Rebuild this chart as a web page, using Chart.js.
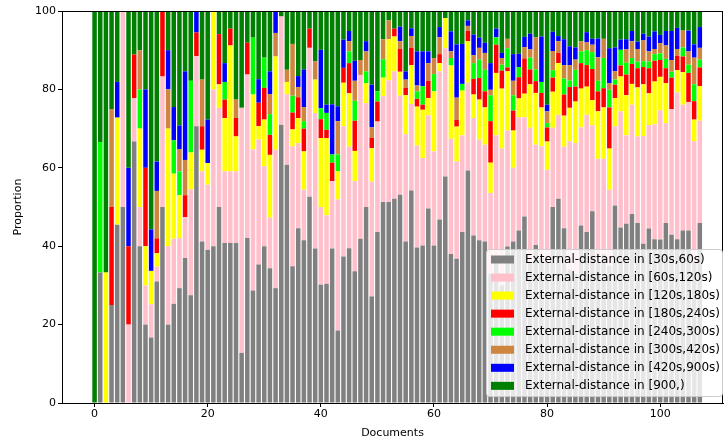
<!DOCTYPE html>
<html>
<head>
<meta charset="utf-8">
<script src="https://cdn.jsdelivr.net/npm/chart.js@4.4.0/dist/chart.umd.min.js"></script>
<style>
  html, body { margin: 0; padding: 0; background: #fff; }
</style>
</head>
<body>
<canvas id="myChart" width="724" height="443"></canvas>
<script>
// documents on the x axis
var documents = [0,1,2,3,4,5,6,7,8,9,10,11,12,13,14,15,16,17,18,19,
  20,21,22,23,24,25,26,27,28,29,30,31,32,33,34,35,36,37,38,39,
  40,41,42,43,44,45,46,47,48,49,50,51,52,53,54,55,56,57,58,59,
  60,61,62,63,64,65,66,67,68,69,70,71,72,73,74,75,76,77,78,79,
  80,81,82,83,84,85,86,87,88,89,90,91,92,93,94,95,96,97,98,99,
  100,101,102,103,104,105,106,107];

var xTicks = [0, 20, 40, 60, 80, 100];
var yTicks = [0, 20, 40, 60, 80, 100];

var seriesNames = ['External-distance in [30s,60s)', 'External-distance in [60s,120s)',
  'External-distance in [120s,180s)', 'External-distance in [180s,240s)',
  'External-distance in [240s,300s)', 'External-distance in [300s,420s)',
  'External-distance in [420s,900s)', 'External-distance in [900,)'];

var d30_60 = [0,33.3,0,25,45.5,50,0,66.7,40,20,
  16.7,31,50,20,25.3,29.3,37,27.5,70.6,41.2,
  39.1,40,50,40.8,40.8,40.8,12.8,42.1,28.7,35.3,
  40,34.4,29.3,71,60.8,34.9,44.6,41.5,52.6,39.4,
  30.2,30.4,39.4,18.5,37.4,39.5,33.6,41.9,50,27.2,
  43.6,51.3,51.3,52.1,53.1,41.2,54.2,39.7,40.2,49.6,
  40.2,46.8,57.8,38,36.8,43.6,59.3,42.7,41.5,41.2,
  33,36,30,39.9,41.2,44,47.6,36,40.3,37,
  36,50,52.1,44.6,34,33,45.3,43.6,48.9,36,
  38,35,50.4,44.8,45.7,48.2,45.9,40.6,44.5,41.8,
  41.7,45.9,42.9,41.8,44,44,36,45.9];

var d60_120 = [0,0,0,0,0,50,20,11.1,10,10,
  8.5,3.8,33.3,20,16.6,12.8,10.4,27,17.9,17.9,
  16.6,40,25.3,18.3,18.3,18.3,62.5,41.7,36,31.9,
  20.4,12.9,35.3,27.6,18,30.6,21.7,12.9,38,34.6,
  19.8,17.5,17.2,33.4,33.2,25.9,23,41.8,26.5,29.3,
  28.2,27,31,32.5,25.3,27.4,22.1,26,22.3,23.8,
  24,37.8,32.7,29.4,24.8,24.7,22.4,30,25.7,24.7,
  20.6,32.3,34.9,29.6,18.8,28.9,25.3,34.2,25.6,28.5,
  23.5,20.2,21.4,20.8,32.8,33.3,25,29.9,22,26.3,
  24.3,19.4,20.2,29.6,22.6,27.9,22.1,27.5,26.4,29.3,
  33,25.5,32.1,37.4,32.1,32.8,30.8,26.1];

var d120_180 = [0,0,33.3,0,27.3,0,0,0,20,10,
  8.5,3.4,0,30,16.6,10.9,0,9.4,0,5.5,
  5.5,20,6,13.6,32.1,8.9,0,0,14,3.4,
  11.9,16,23.8,0,3.1,4.3,6.4,9.8,0,8.5,
  17.6,19.7,0,7.2,11.1,13.6,7.7,0,5.1,8.5,
  0,4.7,10.5,8.9,6.1,9.9,9.9,9.9,12.3,4.4,
  15.3,2.1,7.7,18.7,8.9,11.4,10.6,6,10.2,9.5,
  7.7,15.9,15.3,15.1,9.5,4.8,6,11.1,13.2,9.9,
  7.2,9.2,13.2,7.9,8.5,10.6,9.9,7.2,6.4,12.1,
  13.1,10.5,7.2,8.9,10.2,5.3,12.5,13.2,8.1,10.9,
  8.5,10.2,0,5.7,8.3,0,5.5,8.8];

var d180_240 = [0,0,0,25,0,0,20,11.1,0,20,
  0,3.8,16.7,0,0,0,5.6,0,6,6,
  0,0,12.8,4.7,4.3,4.7,0,8.1,0,6,
  8.1,5.1,0,0,0,4.3,5.3,5.8,4.9,0,
  4.8,2.1,4.7,0,3.8,7.7,7.7,0,0,2.6,
  5.1,0,0,2,5.8,1.9,4.4,2,1.3,4.4,
  0,2.3,0,0,1.7,0,2.6,4,5.5,4.1,
  10.6,7.2,4.6,1,5.1,5.4,9,3.8,3,3.7,
  3.6,3.6,2.6,5.4,5.3,3.8,6.5,5.5,7.9,5.1,
  4.9,10.5,3.4,2.8,5.3,5.1,4.9,4.4,6.4,5.3,
  4.3,3.8,8,3.7,4,7.4,4.7,4.8];

var d240_300 = [0,33.3,0,0,0,0,0,0,10,0,
  0,0,0,0,8.5,6.1,0,18.3,0,0,
  0,0,0,4.5,0,0,0,0,14.5,0,
  7.7,5.3,0,0,0,4.3,0,1.9,0,0,
  2.8,4.3,2.1,4.3,0,3,5.1,0,3,0,
  2.6,4.7,0,0,0,0,0,1.9,4.7,0,
  4.4,0,0,1.9,0,1.7,0,4,4.7,5.5,
  6.6,1.9,1.5,4.9,3.9,2.6,0,3,3,2.8,
  1.1,1.9,0,4.1,1.7,4.3,3,3.8,4.3,2.7,
  7.7,4.5,1.3,4,3,1.5,1.7,1.5,1.7,1.7,
  1.7,2.4,1.5,0,2.3,2.1,4.3,2];

var d300_420 = [0,0,0,25,0,0,0,0,10,0,
  0,12.1,0,10,0,5.7,9,0,0,11.9,
  0,0,0,0,0,4.7,0,0,0,0,
  0,5.1,6,0,3.1,13.2,2.6,3.6,0,4.7,
  0,0,0,8.5,0,2.6,5.1,3.8,5.1,2.7,
  0,5.1,4.8,0,2,2.1,3,1.5,0,4.5,
  4.1,4.3,0,1.7,5.7,0,1.3,2,3,4.3,
  1.4,0,1.7,2.4,3.7,0,2.9,2.1,8.2,0,
  3,4.9,3,3.4,3.9,2.6,2.6,2,1.9,6,
  4.9,1.7,2.1,0,3.4,4.3,3.2,5.3,2.6,1.3,
  2.6,3.4,3,1.7,4.3,3.4,6.8,3];

var d420_900 = [0,0,0,0,9.1,0,20,0,0,20,
  10.6,7.5,0,10,8.5,6,22.6,0,5.5,0,
  11.1,0,0,4.8,0,0,0,0,0,6,
  0,5.8,5.6,0,0,0,2.8,9.6,0,0,
  14.9,2.1,12.8,3.8,7.2,2.6,5.1,0,2.6,10.9,
  0,0,0,0,3.7,2.1,2,8.7,8.9,3,
  0,2.6,0,5.1,13.6,10.2,1.4,5.3,2.6,2.6,
  6.8,2.2,1.3,0,6.8,3.4,2.6,4,0,11.6,
  1.7,4.9,1.3,6.6,4.8,3.1,0,2.6,1.5,4.8,
  0,8.9,6.1,2.6,2.6,2.6,1.9,1.7,3.8,4.5,
  2.1,3.7,7.4,5.4,0,5.3,3.4,5.3];

var d900 = [100,33.4,66.7,25,18.1,0,40,11.1,10,20,
  55.7,38.4,0,10,24.7,29.2,15.4,17.8,0,17.5,
  27.7,0,5.9,13.3,4.5,22.6,24.7,8.1,6.8,17.4,
  11.9,15.4,0,1.4,15,8.4,16.6,14.9,4.5,12.8,
  9.9,23.9,23.8,24.3,7.3,5.1,12.7,12.5,7.7,18.8,
  20.5,7.2,2.4,4.5,4,15.4,4.4,10.3,10.3,10.3,
  12,4.1,1.8,5.2,8.5,8.4,2.4,6,6.8,8.1,
  13.3,4.5,10.7,7.1,11,10.9,6.6,5.8,6.7,6.5,
  23.9,5.3,6.4,7.2,9,9.3,7.7,5.4,7.1,7,
  7.1,9.5,9.3,7.3,7.2,5.1,7.8,5.8,6.5,5.2,
  6.1,5.1,5.1,4.3,5,5,8.5,4.1];

var seriesData = [d30_60, d60_120, d120_180, d180_240, d240_300, d300_420, d420_900, d900];
var colors = ['#808080', '#ffc0cb', '#ffff00', '#ff0000', '#00ff00', '#cd853f', '#0000ff', '#008000'];

var font = { family: 'DejaVu Sans', size: 11 };

var datasets = seriesData.map(function (vals, k) {
  return {
    label: seriesNames[k],
    data: vals.map(function (v, i) { return { x: documents[i], y: v }; }),
    backgroundColor: colors[k],
    borderWidth: 0,
    barPercentage: 0.8,
    categoryPercentage: 1.0
  };
});

// box round the plot, like matplotlib spines
var frame = {
  id: 'frame',
  afterDatasetsDraw: function (chart) {
    var a = chart.chartArea, c = chart.ctx;
    c.save();
    c.strokeStyle = '#000';
    c.lineWidth = 1;
    c.strokeRect(Math.round(a.left) + 0.5, Math.round(a.top) + 0.5,
      Math.round(a.right - a.left) - 1, Math.round(a.bottom - a.top));
    c.restore();
  }
};

// legend drawn inside the plot, lower right
var boxLegend = {
  id: 'boxLegend',
  afterDraw: function (chart) {
    var a = chart.chartArea, c = chart.ctx;
    var w = 236, h = 147;
    var x = a.right - w - 1, y = a.bottom - h - 7;
    c.save();
    c.beginPath();
    c.roundRect(x + 0.5, y + 0.5, w, h, 3);
    c.fillStyle = 'rgba(255,255,255,0.8)';
    c.fill();
    c.strokeStyle = '#cccccc';
    c.lineWidth = 1;
    c.stroke();
    c.font = '12px "DejaVu Sans"';
    c.textBaseline = 'middle';
    chart.data.datasets.forEach(function (ds, k) {
      var cy = y + 10.5 + k * 18.05;
      c.fillStyle = ds.backgroundColor;
      c.fillRect(x + 5, cy - 4, 23, 8);
      c.fillStyle = '#000';
      c.fillText(ds.label, x + 39, cy + 0.5);
    });
    c.restore();
  }
};

var ctx = document.getElementById('myChart').getContext('2d');
var myChart = new Chart(ctx, {
  type: 'bar',
  data: { datasets: datasets },
  options: {
    responsive: false,
    animation: false,
    devicePixelRatio: 1,
    layout: { padding: { top: 11, right: 1, left: 0, bottom: 0 } },
    plugins: {
      legend: { display: false },
      tooltip: { enabled: false }
    },
    scales: {
      x: {
        type: 'linear',
        stacked: true,
        offset: false,
        min: -5.76,
        max: 111.1,
        afterBuildTicks: function (scale) {
          scale.ticks = xTicks.map(function (v) { return { value: v }; });
        },
        afterFit: function (scale) { scale.height = 40; },
        grid: { offset: false, drawOnChartArea: false, tickLength: 4, tickColor: '#000' },
        border: { color: '#000' },
        ticks: { color: '#000', font: font, maxRotation: 0, padding: 1 },
        title: { display: true, text: 'Documents', color: '#000', font: font, padding: { top: 0, bottom: 3 } }
      },
      y: {
        stacked: true,
        min: 0,
        max: 100,
        afterBuildTicks: function (scale) {
          scale.ticks = yTicks.map(function (v) { return { value: v }; });
        },
        afterFit: function (scale) { scale.width = 62; },
        grid: { drawOnChartArea: false, tickLength: 4, tickColor: '#000' },
        border: { color: '#000' },
        ticks: { color: '#000', font: font, padding: 2 },
        title: { display: true, text: 'Proportion', color: '#000', font: font, padding: { top: 12, bottom: 0 } }
      }
    }
  },
  plugins: [frame, boxLegend]
});
</script>
</body>
</html>
